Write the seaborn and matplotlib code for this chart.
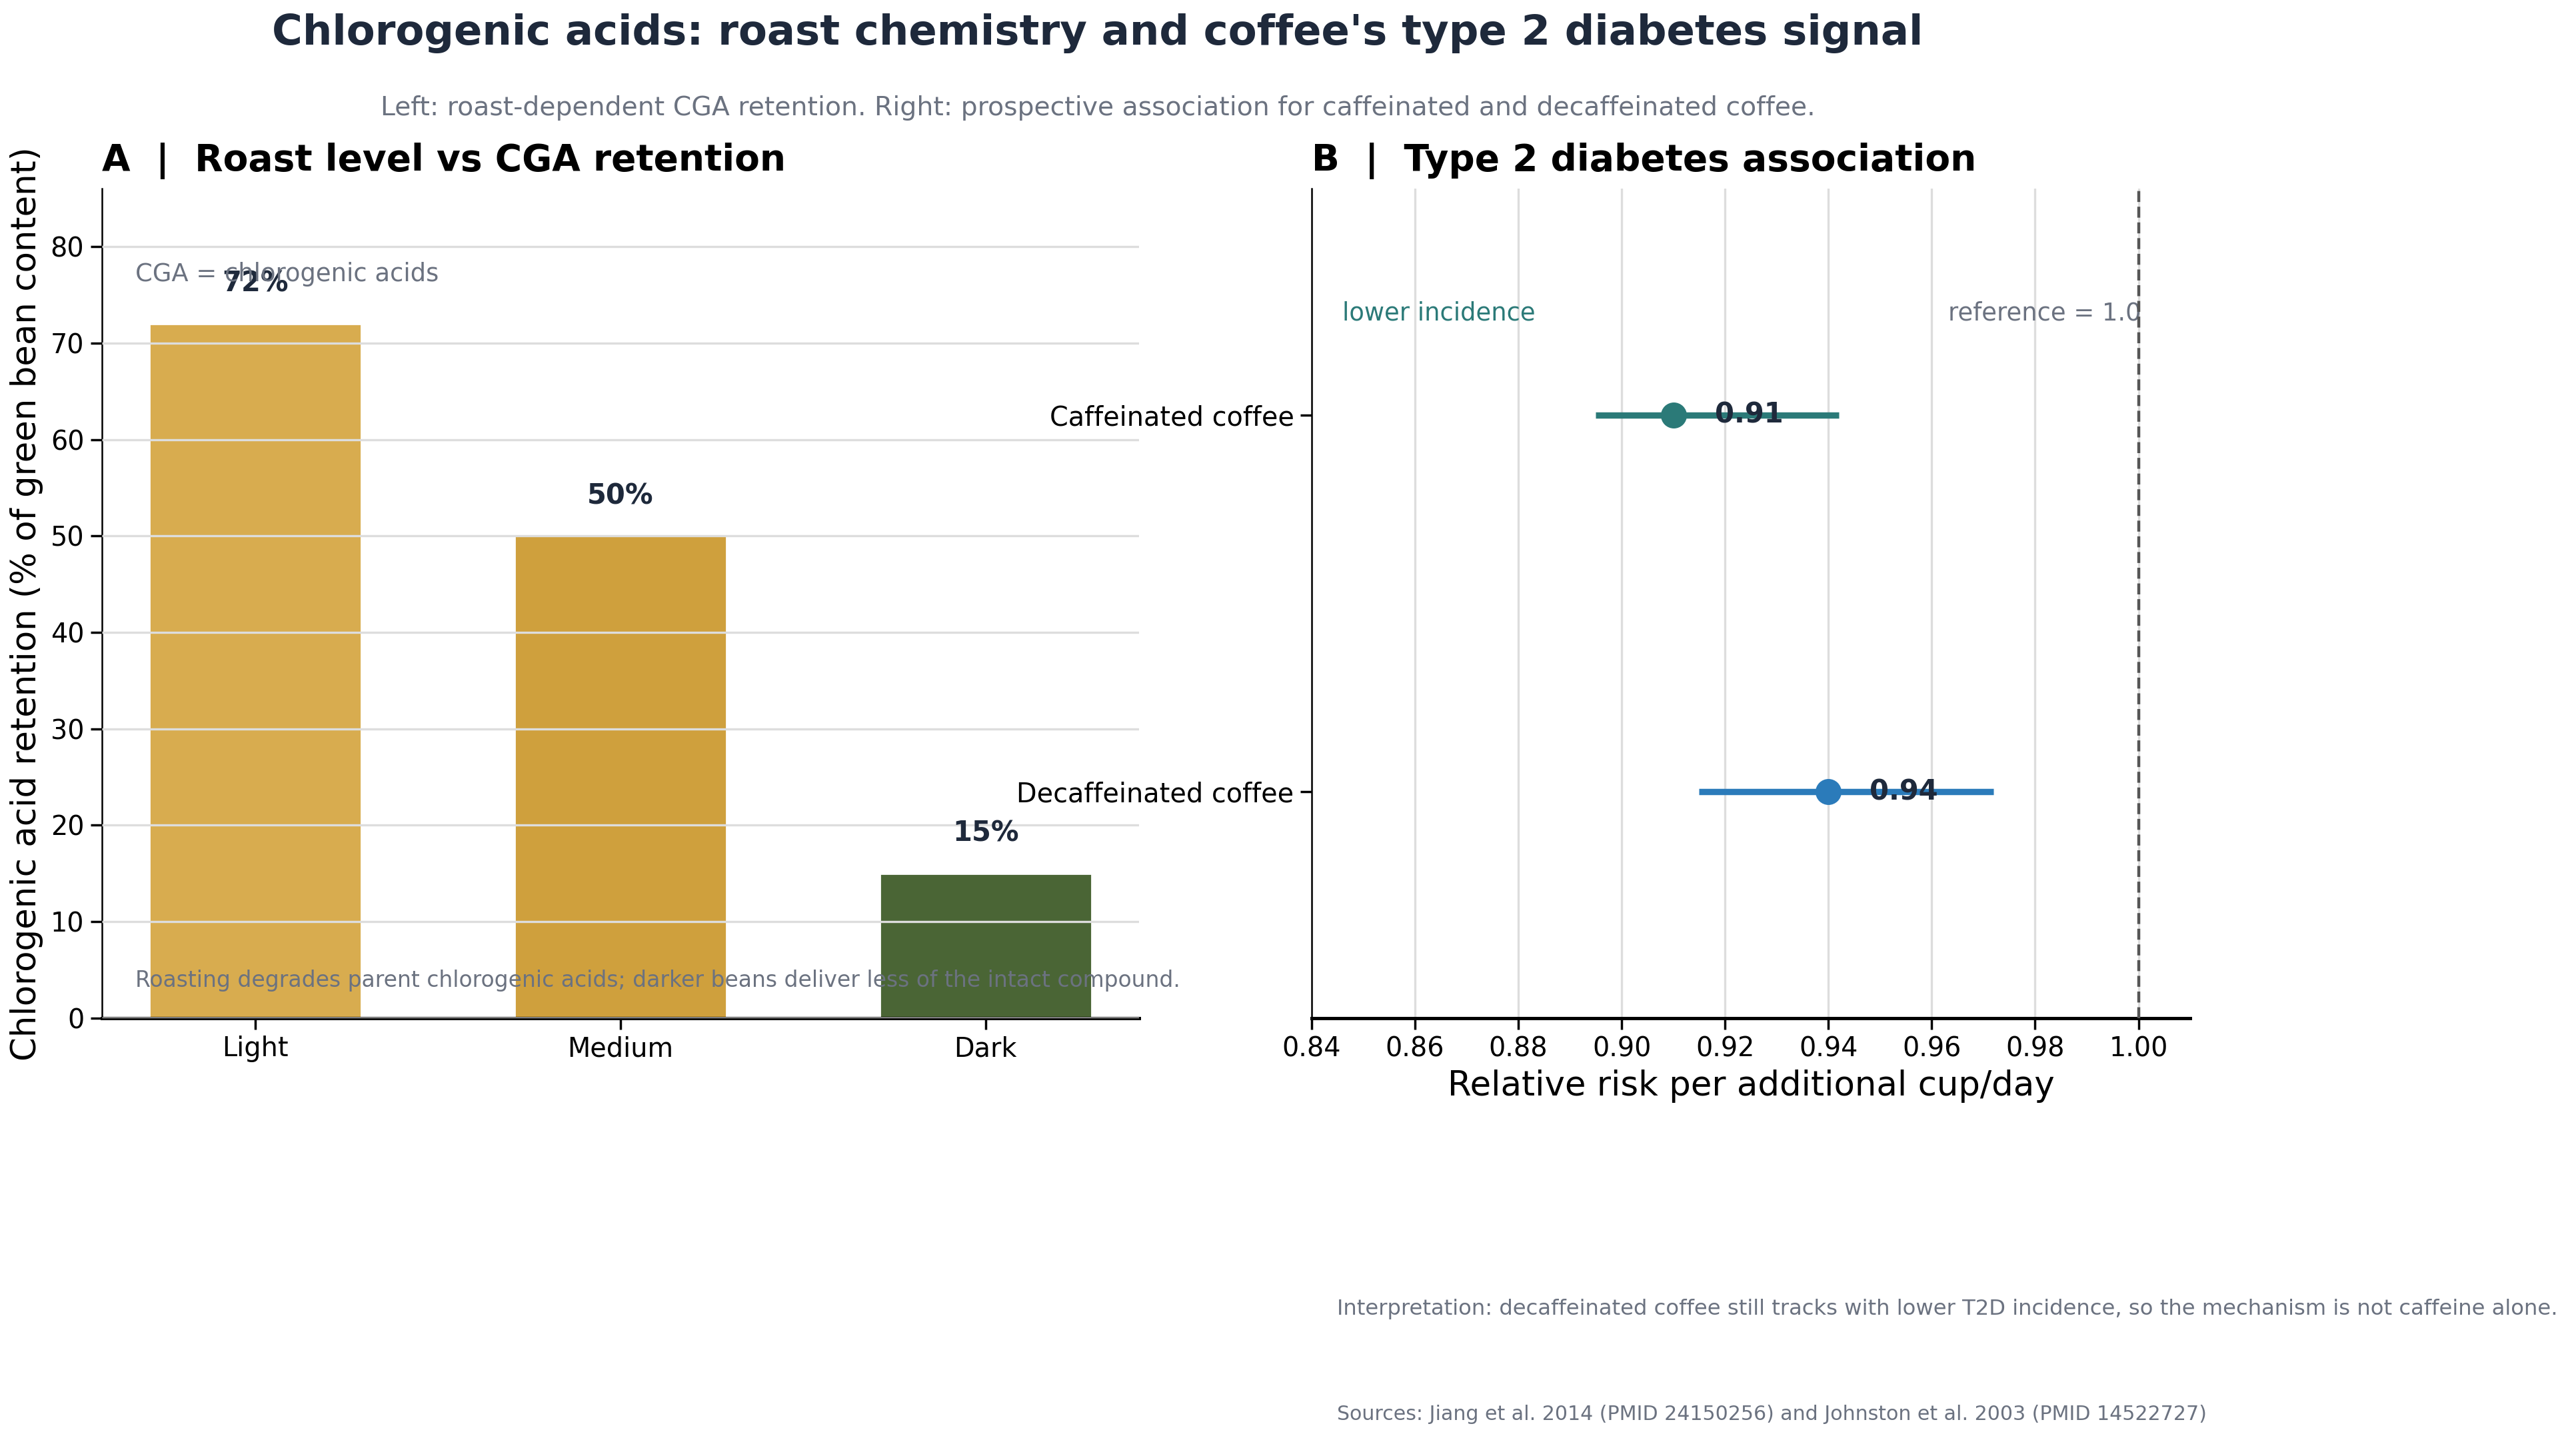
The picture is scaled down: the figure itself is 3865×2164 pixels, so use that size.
import matplotlib
matplotlib.use('Agg')
import seaborn as sns
import matplotlib.pyplot as plt
import pandas as pd

# panel A data
roast = ['Light', 'Medium', 'Dark']
retention = [72, 50, 15]
roast_colors = ['#D8AC4F', '#CFA03D', '#4A6535']

# panel B data
coffee = ['Caffeinated coffee', 'Decaffeinated coffee']
rr = [0.91, 0.94]
rr_low = [0.895, 0.915]
rr_high = [0.942, 0.972]
rr_colors = ['#2B7A78', '#2B7BBA']
rr_ticks = [0.84, 0.86, 0.88, 0.90, 0.92, 0.94, 0.96, 0.98, 1.00]

sns.set_theme(style='ticks')
plt.rcParams['font.family'] = ['DejaVu Sans']
plt.rcParams.update({'text.color': 'black', 'axes.labelcolor': 'black',
                     'xtick.color': 'black', 'ytick.color': 'black',
                     'axes.edgecolor': 'black'})

grey = '#6b7280'
navy = '#1e293b'

fig = plt.figure(figsize=(19.33, 10.82), dpi=200)
ax1 = fig.add_axes([0.0395, 0.294, 0.4025, 0.575])
ax2 = fig.add_axes([0.509, 0.294, 0.341, 0.575])

# --- A: roast level bars
dfa = pd.DataFrame({'roast': roast, 'retention': retention})
sns.barplot(data=dfa, x='roast', y='retention', hue='roast', palette=roast_colors,
            width=0.58, saturation=1, legend=False, ax=ax1)
ax1.set_xlim(-0.42, 2.42)
ax1.set_ylim(0, 86)
ax1.set_axisbelow(False)
ax1.yaxis.grid(True, color='#dddddd', lw=1.2)
for i, v in enumerate(retention):
    ax1.text(i, v + 2.7, f'{v}%', ha='center', va='bottom', fontsize=15,
             fontweight='bold', color=navy)
ax1.text(0.032, 0.897, 'CGA = chlorogenic acids', transform=ax1.transAxes,
         fontsize=13.3, color=grey, va='center')
ax1.text(0.032, 0.045, 'Roasting degrades parent chlorogenic acids; darker beans deliver less of the intact compound.',
         transform=ax1.transAxes, fontsize=11.9, color=grey, va='center')
ax1.set_xlabel('')
ax1.set_ylabel('Chlorogenic acid retention (% of green bean content)', fontsize=18.5)
ax1.set_title('A  |  Roast level vs CGA retention', loc='left', fontsize=19.8,
              fontweight='bold', pad=10, color='black')
ax1.tick_params(labelsize=14.3)
sns.despine(ax=ax1)
ax1.spines['bottom'].set_linewidth(1.8)
ax1.spines['left'].set_linewidth(0.9)

# --- B: forest plot
dfb = pd.DataFrame({'coffee': coffee, 'rr': rr})
ax2.set_axisbelow(True)
ax2.xaxis.grid(True, color='#dddddd', lw=1.2)
ax2.hlines(y=[0, 1], xmin=rr_low, xmax=rr_high, colors=rr_colors, lw=3.4, zorder=2)
sns.pointplot(data=dfb, x='rr', y='coffee', hue='coffee', palette=rr_colors,
              linestyle='none', markersize=12, errorbar=None, legend=False, ax=ax2)
for c in ax2.collections + ax2.lines:
    c.set_zorder(3)
ax2.axvline(1.0, color='#555555', ls='--', lw=1.6, zorder=4)
for i, v in enumerate(rr):
    ax2.text(v + 0.008, i, f'{v:.2f}', ha='left', va='center', fontsize=15,
             fontweight='bold', color=navy, zorder=5)
ax2.text(0.846, -0.27, 'lower incidence', color=rr_colors[0], fontsize=13.3, va='center')
ax2.text(1.0005, -0.27, 'reference = 1.0', color=grey, fontsize=13.3, va='center', ha='right')
ax2.set_xlim(0.84, 1.01)
ax2.set_ylim(1.6, -0.6)
ax2.set_xticks(rr_ticks)
ax2.set_xticklabels([f'{t:.2f}' for t in rr_ticks])
ax2.set_xlabel('Relative risk per additional cup/day', fontsize=18.5)
ax2.set_ylabel('')
ax2.set_title('B  |  Type 2 diabetes association', loc='left', fontsize=19.8,
              fontweight='bold', pad=10, color='black')
ax2.tick_params(labelsize=14.3)
sns.despine(ax=ax2)
ax2.spines['bottom'].set_linewidth(1.8)
ax2.spines['left'].set_linewidth(0.9)

# figure texts
fig.text(0.426, 0.977, "Chlorogenic acids: roast chemistry and coffee's type 2 diabetes signal",
         ha='center', va='center', fontsize=22.5, fontweight='bold', color=navy)
fig.text(0.426, 0.925, 'Left: roast-dependent CGA retention. Right: prospective association for caffeinated and decaffeinated coffee.',
         ha='center', va='center', fontsize=14.2, color=grey)
fig.text(0.519, 0.092, 'Interpretation: decaffeinated coffee still tracks with lower T2D incidence, so the mechanism is not caffeine alone.',
         ha='left', va='center', fontsize=11.6, color=grey)
fig.text(0.519, 0.019, 'Sources: Jiang et al. 2014 (PMID 24150256) and Johnston et al. 2003 (PMID 14522727)',
         ha='left', va='center', fontsize=10.8, color=grey)

fig.savefig('out.png', dpi=200)
